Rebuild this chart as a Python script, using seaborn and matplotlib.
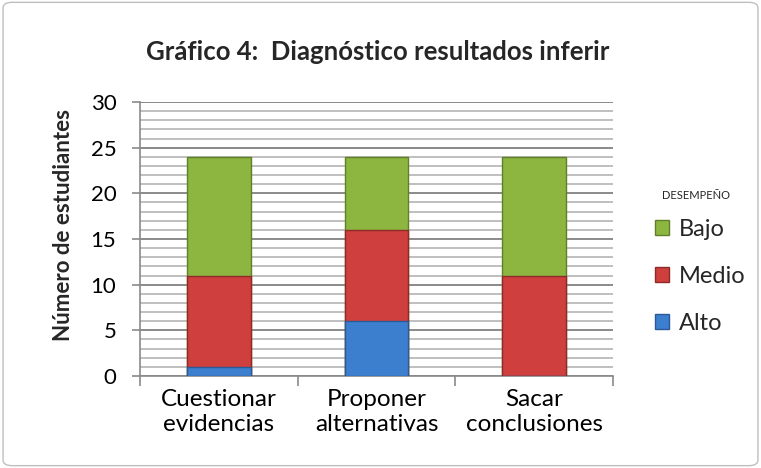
import matplotlib
matplotlib.use("Agg")
import matplotlib.pyplot as plt
import seaborn as sns
import pandas as pd
import numpy as np
from matplotlib.patches import FancyBboxPatch, Patch
from matplotlib.ticker import MultipleLocator

categories = ["Cuestionar\nevidencias", "Proponer\nalternativas", "Sacar\nconclusiones"]
alto = [1, 6, 0]
medio = [10, 10, 11]
bajo = [13, 8, 13]
series_names = ["Alto", "Medio", "Bajo"]
colors = {"Alto": "#3d7fcf", "Medio": "#cf3f3d", "Bajo": "#8db640"}
edge = {"Alto": "#2a5a96", "Medio": "#8e2a28", "Bajo": "#5f7f28"}

sns.set_theme(style="white")
plt.rcParams['font.family'] = ['Lato', 'DejaVu Sans']

df = pd.DataFrame({"cat": categories, "Alto": alto, "Medio": medio, "Bajo": bajo})
df["c_alto"] = df["Alto"]
df["c_medio"] = df["Alto"] + df["Medio"]
df["c_bajo"] = df["c_medio"] + df["Bajo"]

fig = plt.figure(figsize=(7.61, 4.68), dpi=100)
ax = fig.add_axes([140/761, 1-376/468, (613-140)/761, (376-102)/468])

for name, col in [("Bajo", "c_bajo"), ("Medio", "c_medio"), ("Alto", "c_alto")]:
    sns.barplot(data=df, x="cat", y=col, color=colors[name], width=0.405,
                edgecolor=edge[name], linewidth=1.0, ax=ax, saturation=1, zorder=3)

ax.set_ylim(0, 30)
ax.set_xlim(-0.5, 2.5)
ax.yaxis.set_major_locator(MultipleLocator(5))
ax.yaxis.set_minor_locator(MultipleLocator(1))
ax.grid(True, which="major", axis="y", color="#8a8a8a", linewidth=1.4, zorder=0)
ax.grid(True, which="minor", axis="y", color="#b4b4b4", linewidth=1.2, zorder=0)
ax.set_axisbelow(True)
for s in ["top", "right"]:
    ax.spines[s].set_visible(False)
for s in ["left", "bottom"]:
    ax.spines[s].set_color("#8a8a8a")
    ax.spines[s].set_linewidth(1.2)

ax.set_xticks([-0.5, 0.5, 1.5, 2.5], minor=True)
ax.tick_params(axis="x", which="minor", length=7, color="#8a8a8a", width=1.2, direction="out", bottom=True)
ax.tick_params(axis="x", which="major", length=0, labelsize=17.5, pad=9, colors="black")
ax.tick_params(axis="y", which="major", length=6, color="#8a8a8a", width=1.2, direction="out", left=True,
               labelsize=16, labelcolor="black", pad=11)
ax.tick_params(axis="y", which="minor", length=0)
ax.set_xlabel("")
ax.set_ylabel("Número de estudiantes", fontsize=16, fontweight="bold")
ax.yaxis.set_label_coords((74 - 140) / 473, (376 - 225) / 274)
ax.set_xticks(range(len(categories)))
ax.set_xticklabels(categories, linespacing=1.25)

fig.text(378/761, 1-52/468, "Gráfico 4:  Diagnóstico resultados inferir", ha="center", va="center",
         fontsize=18.5, fontweight="bold")

fig.text(696/761, 1-195/468, "DESEMPEÑO", ha="center", va="center", fontsize=8)
handles = [Patch(facecolor=colors[n], edgecolor=edge[n], label=n) for n in ["Bajo", "Medio", "Alto"]]
leg = fig.legend(handles=handles, loc="upper left", bbox_to_anchor=(655/761, 1-219/468),
                 frameon=False, fontsize=17,
                 handlelength=0.6, handleheight=0.6, handletextpad=0.4, labelspacing=1.1,
                 borderaxespad=0, borderpad=0)

fig.patches.append(FancyBboxPatch((0.004, 0.005), 0.992, 0.99, boxstyle="round,pad=0,rounding_size=0.012",
                                  transform=fig.transFigure, facecolor="none", edgecolor="#bfbfbf",
                                  linewidth=1.0))

fig.savefig("out.png", dpi=100)
